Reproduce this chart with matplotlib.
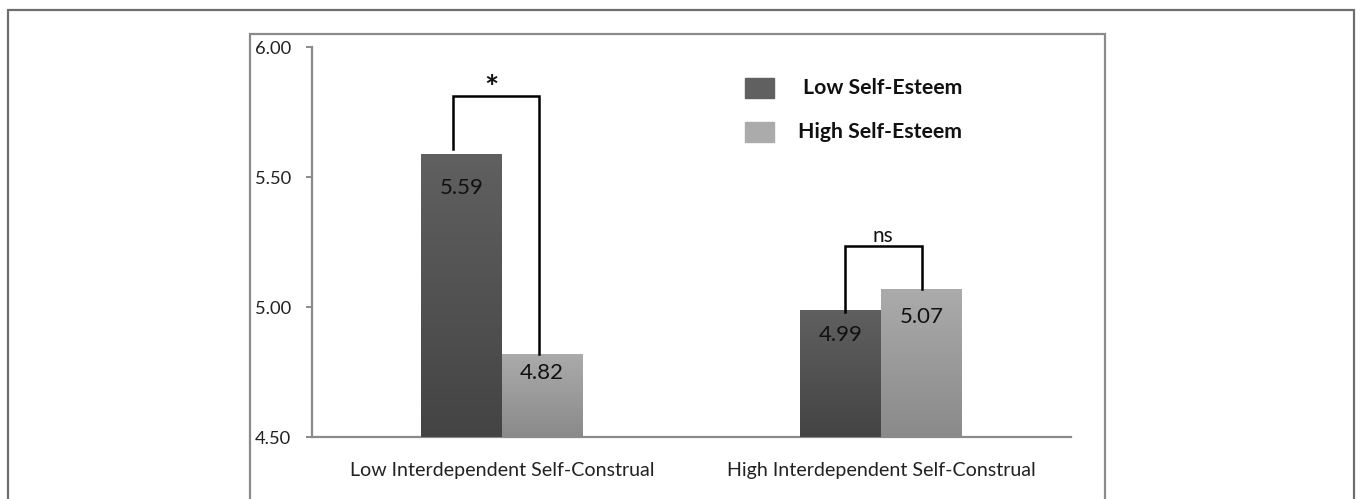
import matplotlib
matplotlib.use('Agg')
import matplotlib.pyplot as plt
from matplotlib.patches import Rectangle
from matplotlib.colors import LinearSegmentedColormap
import numpy as np

plt.rcParams['font.family'] = ['Lato', 'DejaVu Sans']

# dados
grupos = ['Low Interdependent Self-Construal', 'High Interdependent Self-Construal']
series = ['Low Self-Esteem', 'High Self-Esteem']
low_se = [5.59, 4.99]
high_se = [4.82, 5.07]
signif = ['*', 'ns']
yticks = [4.50, 5.00, 5.50, 6.00]

W, H = 1360, 499
fig = plt.figure(figsize=(W / 100, H / 100), dpi=100)
fig.patch.set_facecolor('white')

# moldura externa e moldura do gráfico
for (x0, y0, x1, y1, cor) in [(8, 10, 1354, 520, '#6e6e6e'), (250, 34, 1105, 520, '#8a8a8a')]:
    r = Rectangle((x0 / W, 1 - y1 / H), (x1 - x0) / W, (y1 - y0) / H,
                  transform=fig.transFigure, fill=False, edgecolor=cor,
                  linewidth=1.6, clip_on=False)
    fig.patches.append(r)

ax = fig.add_axes([312 / W, (H - 437) / H, 759 / W, 390 / H])

x = np.arange(len(grupos))
largura = 0.213
cores = [('#606060', '#444444'), ('#ababab', '#8a8a8a')]

barras_low = ax.bar(x - largura / 2, low_se, largura, bottom=0, color=cores[0][0], zorder=2)
barras_high = ax.bar(x + largura / 2, high_se, largura, bottom=0, color=cores[1][0], zorder=2)

# gradiente vertical em cada barra
grad = np.linspace(0, 1, 256).reshape(-1, 1)
for barras, (topo, base) in zip([barras_low, barras_high], cores):
    cmap = LinearSegmentedColormap.from_list('g', [base, topo])
    for b in barras:
        bx, by = b.get_x(), 4.5
        bw, bh = b.get_width(), b.get_height() - 4.5
        im = ax.imshow(grad, extent=[bx, bx + bw, by, by + bh], origin='lower',
                       cmap=cmap, aspect='auto', zorder=3, interpolation='bilinear')
        im.set_clip_path(b)

ax.set_xlim(-0.5, 1.5)
ax.set_ylim(4.5, 6.0)

# rótulos de valor dentro das barras (deslocamento em pixels)
desloc = [[34, 25], [19, 28]]
for k, (barras, vals) in enumerate([(barras_low, low_se), (barras_high, high_se)]):
    for i, (b, v) in enumerate(zip(barras, vals)):
        ax.annotate('%.2f' % v, (b.get_x() + b.get_width() / 2, v),
                    xytext=(0, -desloc[k][i] * 0.72), textcoords='offset points',
                    ha='center', va='center', fontsize=16, color='#111111', zorder=5)

# colchetes de significância
topos = [5.81, 5.235]
for i in range(len(grupos)):
    xl = x[i] - largura / 2 + (-0.022 if i == 0 else 0.012)
    xr = x[i] + largura / 2 - (0.009 if i == 0 else 0.0)
    yl = low_se[i] + (0.018 if i == 0 else -0.01)
    ax.plot([xl, xl, xr, xr], [yl, topos[i], topos[i], high_se[i]],
            color='black', linewidth=1.8, zorder=4, solid_joinstyle='miter')
ax.text(x[0] - 0.026, 5.835, signif[0], ha='center', va='center',
        fontsize=24, fontweight='bold', color='#111111')
ax.text(x[1] + 0.005, 5.275, signif[1], ha='center', va='center',
        fontsize=15, color='#111111')

# eixos
for lado in ['top', 'right']:
    ax.spines[lado].set_visible(False)
for lado in ['left', 'bottom']:
    ax.spines[lado].set_color('#8a8a8a')
    ax.spines[lado].set_linewidth(1.6)
ax.set_yticks(yticks)
ax.set_yticklabels(['%.2f' % t for t in yticks])
ax.tick_params(axis='y', direction='out', length=4.5, width=1.4, color='#8a8a8a',
               labelsize=13.2, labelcolor='#222222', pad=10.8)
ax.set_xticks(x)
ax.set_xticklabels(grupos)
ax.tick_params(axis='x', length=0, labelsize=14.1, labelcolor='#222222', pad=18)

# legenda desenhada à mão
for j, (nome, (topo, base)) in enumerate(zip(series, cores)):
    y0 = 78 + j * 44
    fig.patches.append(Rectangle((745 / W, 1 - (y0 + 20) / H), 29 / W, 20 / H,
                                 transform=fig.transFigure, color=topo))
    fig.text(962 / W, 1 - (y0 + 10) / H, nome, ha='right', va='center',
             fontsize=15.3, fontweight='bold', color='#111111')

fig.savefig('out.png', dpi=100)
